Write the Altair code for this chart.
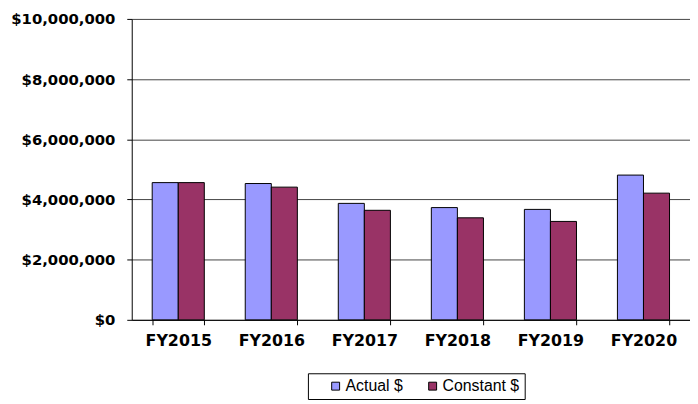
import altair as alt
import pandas as pd

years = ["FY2015", "FY2016", "FY2017", "FY2018", "FY2019", "FY2020"]
actual = [4560000, 4530000, 3870000, 3730000, 3670000, 4810000]
constant = [4560000, 4410000, 3640000, 3390000, 3270000, 4210000]
series = ["Actual $", "Constant $"]
colors = ["#9999FF", "#993366"]
y_ticks = [0, 2000000, 4000000, 6000000, 8000000, 10000000]

rows = []
for i, yr in enumerate(years):
    rows.append({"year": yr, "series": series[0], "value": actual[i]})
    rows.append({"year": yr, "series": series[1], "value": constant[i]})
df = pd.DataFrame(rows)

chart = alt.Chart(df).mark_bar(stroke="black", strokeWidth=1).encode(
    x=alt.X(
        "year:N", sort=years,
        scale=alt.Scale(paddingInner=0.44, paddingOuter=0.22),
        axis=alt.Axis(
            title=None, labelAngle=0, tickBand="extent", tickSize=5,
            tickColor="black", domainColor="black", labelFont="DejaVu Sans",
            labelFontSize=16, labelFontWeight="bold", labelColor="black",
            labelPadding=8, grid=False,
        ),
    ),
    xOffset=alt.XOffset("series:N", sort=series,
                        scale=alt.Scale(paddingInner=0, paddingOuter=0)),
    y=alt.Y(
        "value:Q",
        scale=alt.Scale(domain=[0, 10000000], nice=False),
        axis=alt.Axis(
            title=None, values=y_ticks, format="$,.0f", tickSize=5,
            tickColor="black", domainColor="black", labelFont="DejaVu Sans",
            labelFontSize=15, labelFontWeight="bold", labelColor="black",
            labelPadding=12, grid=True, gridColor="#444444", gridWidth=1,
        ),
    ),
    color=alt.Color(
        "series:N",
        scale=alt.Scale(domain=series, range=colors),
        legend=alt.Legend(
            title=None, orient="none", legendX=178, legendY=358,
            direction="horizontal", strokeColor="black", padding=5,
            symbolType="square", symbolSize=64, symbolStrokeColor="black",
            symbolStrokeWidth=1, symbolOpacity=1, labelFont="Liberation Sans",
            labelFontSize=16, labelColor="black", labelOffset=2,
            columnPadding=7, symbolOffset=15,
            labelExpr="datum.label + '\u00a0\u00a0\u00a0'",
        ),
    ),
).properties(
    width=564, height=304,
    autosize=alt.AutoSizeParams(type="none"),
    padding={"left": 125, "top": 9, "right": 0, "bottom": 83},
).configure_view(stroke=None)

chart.save("out.html", embed_options={"renderer": "svg", "actions": False})
